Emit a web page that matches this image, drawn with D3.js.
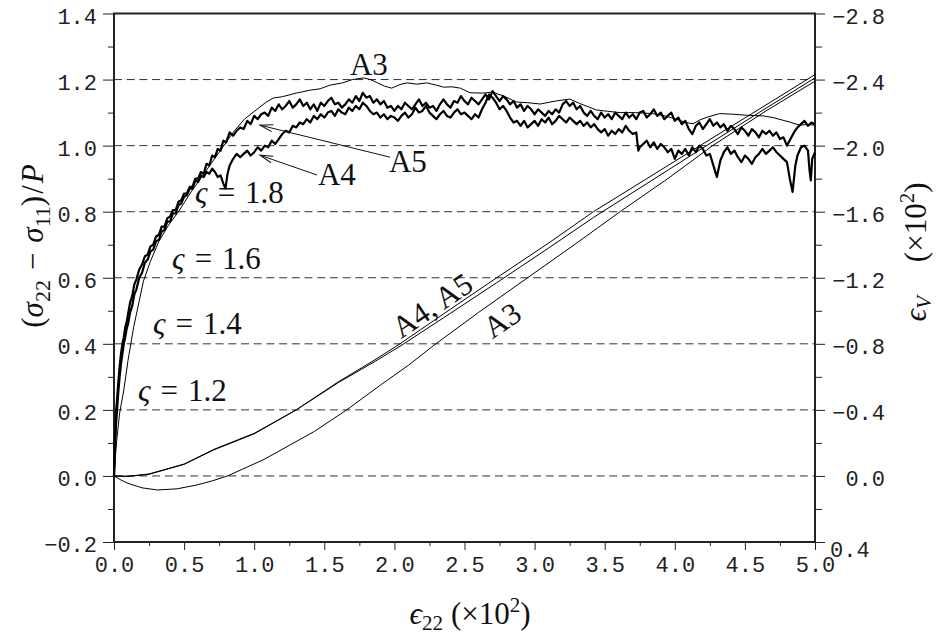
<!DOCTYPE html>
<html>
<head>
<meta charset="utf-8">
<script src="https://cdn.jsdelivr.net/npm/d3@7"></script>
<style>
  body { margin: 0; background: #fff; }
  svg { display: block; }
  .tick text { font-family: "Liberation Mono", monospace; font-size: 22px; fill: #222; }
  .tick line { stroke: #222; }
  .math { font-family: "Liberation Serif", "DejaVu Serif", serif; fill: #111; font-size: 31px; }
  .grid { stroke: #333; stroke-width: 1; stroke-dasharray: 8 4.7; }
</style>
</head>
<body>
<div id="chart"></div>
<script>
// ---- data ----
// x = eps22 (x10^2), left axis = (s22 - s11)/P, right axis = epsV (x10^2)

const xMajorTicks = [0, 0.5, 1, 1.5, 2, 2.5, 3, 3.5, 4, 4.5, 5];
const xMinorTicks = [0.25, 0.75, 1.25, 1.75, 2.25, 2.75, 3.25, 3.75, 4.25, 4.75];
const leftMajorTicks = [-0.2, 0, 0.2, 0.4, 0.6, 0.8, 1.0, 1.2, 1.4];
const leftMinorTicks = [-0.1, 0.1, 0.3, 0.5, 0.7, 0.9, 1.1, 1.3];
const rightMajorTicks = [0.4, 0, -0.4, -0.8, -1.2, -1.6, -2.0, -2.4, -2.8];
const rightMinorTicks = [0.2, -0.2, -0.6, -1.0, -1.4, -1.8, -2.2, -2.6];
const gridValues = [0, 0.2, 0.4, 0.6, 0.8, 1.0, 1.2];

// stress ratio, A3 (thin, smoother)
const stressA3 = [[0,0],[0.01,0.06],[0.02,0.11],[0.04,0.19],[0.07,0.26],[0.1,0.35],[0.14,0.45],[0.18,0.53],
  [0.21,0.59],[0.26,0.65],[0.32,0.71],[0.39,0.76],[0.46,0.80],[0.55,0.86],[0.65,0.92],[0.75,0.98],
  [0.85,1.04],[0.93,1.08],[1.02,1.11],[1.08,1.13],[1.135,1.144],[1.2,1.148],[1.3,1.159],[1.4,1.168],
  [1.47,1.172],[1.54,1.183],[1.63,1.19],[1.7,1.20],[1.78,1.205],[1.83,1.20],[1.87,1.192],[1.93,1.18],
  [1.98,1.174],[2.04,1.185],[2.09,1.19],[2.16,1.186],[2.23,1.19],[2.3,1.183],[2.35,1.177],[2.41,1.178],
  [2.47,1.174],[2.54,1.16],[2.63,1.159],[2.70,1.162],[2.78,1.15],[2.87,1.132],[2.95,1.13],[3.04,1.126],
  [3.15,1.135],[3.25,1.141],[3.32,1.128],[3.44,1.108],[3.52,1.104],[3.61,1.10],[3.72,1.10],[3.84,1.097],
  [3.93,1.09],[4.01,1.08],[4.08,1.07],[4.13,1.066],[4.18,1.078],[4.23,1.086],[4.32,1.097],[4.42,1.095],
  [4.51,1.092],[4.63,1.09],[4.7,1.085],[4.77,1.077],[4.83,1.07],[4.89,1.062],[4.95,1.064],[5.0,1.062]];

// stress ratio, A5 (noisy, upper band)
const stressA5 = [[0,0],[0.005,0.08],[0.01,0.15],[0.015,0.2],[0.02,0.22],[0.03,0.28],[0.04,0.33],[0.05,0.37],
  [0.06,0.40],[0.07,0.42],[0.08,0.45],[0.09,0.465],[0.1,0.49],[0.115,0.525],[0.13,0.545],[0.145,0.58],
  [0.16,0.595],[0.18,0.625],[0.2,0.64],[0.22,0.665],[0.24,0.67],[0.26,0.695],[0.28,0.70],[0.30,0.725],
  [0.32,0.73],[0.34,0.755],[0.36,0.755],[0.38,0.78],[0.40,0.785],[0.42,0.805],[0.44,0.805],[0.46,0.83],
  [0.48,0.835],[0.50,0.855],[0.52,0.855],[0.54,0.875],[0.56,0.875],[0.58,0.9],[0.60,0.9],[0.62,0.92],
  [0.64,0.915],[0.66,0.945],[0.68,0.94],[0.70,0.97],[0.72,0.965],[0.74,0.99],[0.76,0.985],[0.78,1.015],
  [0.800,1.01],[0.825,1.04],[0.850,1.03],[0.875,1.045],[0.900,1.055],[0.925,1.05],[0.950,1.075],[0.975,1.065],
  [1.000,1.09],[1.025,1.08],[1.050,1.095],[1.075,1.1],[1.100,1.09],[1.125,1.115],[1.150,1.105],[1.175,1.125],
  [1.200,1.11],[1.225,1.12],[1.250,1.135],[1.275,1.115],[1.300,1.125],[1.325,1.14],[1.350,1.12],[1.375,1.13],
  [1.400,1.11],[1.425,1.125],[1.450,1.105],[1.475,1.13],[1.500,1.12],[1.525,1.135],[1.550,1.145],[1.575,1.125],
  [1.600,1.13],[1.625,1.115],[1.650,1.125],[1.675,1.14],[1.700,1.13],[1.725,1.15],[1.750,1.135],[1.775,1.16],
  [1.800,1.145],[1.825,1.15],[1.850,1.13],[1.875,1.14],[1.900,1.125],[1.925,1.135],[1.950,1.115],[1.975,1.12],
  [2.000,1.105],[2.025,1.12],[2.050,1.11],[2.075,1.13],[2.100,1.12],[2.125,1.11],[2.150,1.125],[2.175,1.14],
  [2.200,1.12],[2.225,1.13],[2.250,1.115],[2.275,1.12],[2.300,1.105],[2.325,1.125],[2.350,1.14],[2.375,1.125],
  [2.400,1.115],[2.425,1.135],[2.450,1.13],[2.475,1.15],[2.500,1.135],[2.525,1.125],[2.550,1.145],[2.575,1.135],
  [2.600,1.125],[2.625,1.14],[2.650,1.155],[2.675,1.14],[2.700,1.165],[2.725,1.15],[2.750,1.135],[2.775,1.15],
  [2.800,1.14],[2.825,1.125],[2.850,1.135],[2.875,1.115],[2.900,1.125],[2.925,1.105],[2.950,1.12],[2.975,1.11],
  [3.000,1.095],[3.025,1.11],[3.050,1.1],[3.075,1.09],[3.100,1.105],[3.125,1.095],[3.150,1.11],[3.175,1.1],
  [3.200,1.125],[3.225,1.135],[3.250,1.12],[3.275,1.13],[3.300,1.11],[3.325,1.12],[3.350,1.1],[3.375,1.09],
  [3.400,1.105],[3.425,1.09],[3.450,1.08],[3.475,1.1],[3.500,1.085],[3.525,1.095],[3.550,1.08],[3.575,1.1],
  [3.600,1.09],[3.625,1.08],[3.650,1.1],[3.675,1.085],[3.700,1.095],[3.725,1.08],[3.750,1.1],[3.775,1.105],
  [3.800,1.085],[3.825,1.095],[3.850,1.11],[3.875,1.09],[3.900,1.1],[3.925,1.08],[3.950,1.09],[3.975,1.1],
  [4.000,1.075],[4.025,1.085],[4.050,1.065],[4.075,1.075],[4.100,1.05],[4.125,1.035],[4.150,1.06],[4.175,1.07],
  [4.200,1.05],[4.225,1.065],[4.250,1.08],[4.275,1.06],[4.300,1.07],[4.325,1.055],[4.350,1.065],[4.375,1.045],
  [4.400,1.06],[4.425,1.05],[4.450,1.035],[4.475,1.055],[4.500,1.045],[4.525,1.03],[4.550,1.05],[4.575,1.04],
  [4.600,1.025],[4.625,1.045],[4.650,1.035],[4.675,1.045],[4.700,1.03],[4.725,1.04],[4.750,1.02],[4.775,1.025],
  [4.800,1.0],[4.825,1.02],[4.850,1.04],[4.875,1.055],[4.900,1.065],[4.925,1.075],[4.950,1.06],[4.975,1.07],
  [5.000,1.065]];

// stress ratio, A4 (noisy, lower band)
const stressA4 = [[0,0],[0.005,0.06],[0.01,0.12],[0.015,0.16],[0.02,0.19],[0.03,0.25],[0.04,0.30],[0.05,0.34],
  [0.06,0.37],[0.07,0.40],[0.08,0.42],[0.09,0.445],[0.1,0.46],[0.115,0.495],[0.13,0.515],[0.145,0.55],
  [0.16,0.565],[0.18,0.6],[0.2,0.615],[0.22,0.645],[0.24,0.655],[0.26,0.68],[0.28,0.685],[0.30,0.71],
  [0.32,0.715],[0.34,0.74],[0.36,0.745],[0.38,0.77],[0.40,0.77],[0.42,0.795],[0.44,0.795],[0.46,0.82],
  [0.48,0.825],[0.50,0.845],[0.52,0.85],[0.54,0.87],[0.56,0.87],[0.58,0.895],[0.60,0.89],[0.62,0.91],
  [0.64,0.905],[0.66,0.92],[0.68,0.915],[0.70,0.93],[0.72,0.92],[0.74,0.905],[0.76,0.91],[0.78,0.885],
  [0.795,0.87],[0.81,0.915],[0.825,0.94],[0.850,0.96],[0.875,0.975],[0.900,0.965],[0.925,0.975],[0.950,0.985],
  [0.975,0.97],[1.000,0.98],[1.025,0.995],[1.050,0.985],[1.075,1.0],[1.100,0.995],[1.125,1.015],[1.150,1.005],
  [1.175,1.02],[1.200,1.035],[1.225,1.045],[1.250,1.04],[1.275,1.06],[1.300,1.055],[1.325,1.07],[1.350,1.065],
  [1.375,1.08],[1.400,1.07],[1.425,1.09],[1.450,1.08],[1.475,1.095],[1.500,1.085],[1.525,1.1],[1.550,1.105],
  [1.575,1.09],[1.600,1.11],[1.625,1.1],[1.650,1.095],[1.675,1.115],[1.700,1.105],[1.725,1.12],[1.750,1.11],
  [1.775,1.13],[1.800,1.12],[1.825,1.105],[1.850,1.095],[1.875,1.1],[1.900,1.085],[1.925,1.095],[1.950,1.08],
  [1.975,1.09],[2.000,1.085],[2.025,1.075],[2.050,1.09],[2.075,1.1],[2.100,1.085],[2.125,1.095],[2.150,1.115],
  [2.175,1.1],[2.200,1.105],[2.225,1.12],[2.250,1.1],[2.275,1.09],[2.300,1.08],[2.325,1.095],[2.350,1.105],
  [2.375,1.09],[2.400,1.085],[2.425,1.1],[2.450,1.11],[2.475,1.095],[2.500,1.1],[2.525,1.09],[2.550,1.08],
  [2.575,1.095],[2.600,1.085],[2.625,1.11],[2.650,1.13],[2.675,1.155],[2.700,1.145],[2.725,1.13],[2.750,1.11],
  [2.775,1.12],[2.800,1.105],[2.825,1.085],[2.850,1.07],[2.875,1.075],[2.900,1.06],[2.925,1.075],[2.950,1.055],
  [2.975,1.065],[3.000,1.075],[3.025,1.06],[3.050,1.08],[3.075,1.07],[3.100,1.085],[3.125,1.065],[3.150,1.075],
  [3.175,1.09],[3.200,1.08],[3.225,1.07],[3.250,1.085],[3.275,1.075],[3.300,1.065],[3.325,1.075],[3.350,1.06],
  [3.375,1.07],[3.400,1.055],[3.425,1.065],[3.450,1.05],[3.475,1.04],[3.500,1.05],[3.525,1.03],[3.550,1.045],
  [3.575,1.035],[3.600,1.05],[3.625,1.04],[3.650,1.06],[3.675,1.045],[3.700,1.035],[3.725,1.04],[3.740,0.985],
  [3.750,0.995],[3.775,1.005],[3.800,1.015],[3.825,0.995],[3.850,1.01],[3.875,0.99],[3.900,1.005],[3.925,0.995],
  [3.950,0.98],[3.975,0.99],[4.000,0.96],[4.025,0.985],[4.050,0.975],[4.075,0.99],[4.100,0.97],[4.125,0.995],
  [4.150,0.98],[4.175,1.0],[4.200,0.99],[4.225,0.97],[4.250,0.975],[4.275,0.94],[4.300,0.905],[4.325,0.955],
  [4.350,0.98],[4.375,0.995],[4.400,0.975],[4.425,0.985],[4.450,0.965],[4.475,0.95],[4.500,0.97],[4.525,0.96],
  [4.550,0.945],[4.575,0.965],[4.600,0.975],[4.625,0.99],[4.650,0.975],[4.675,0.985],[4.700,0.995],[4.725,0.98],
  [4.750,0.97],[4.775,0.96],[4.800,0.95],[4.820,0.9],[4.840,0.86],[4.860,0.94],[4.875,0.97],[4.900,0.995],
  [4.925,1.0],[4.950,0.985],[4.960,0.93],[4.970,0.895],[4.980,0.96],[5.000,0.98]];

// volumetric strain (right axis)
const volA3 = [[0,0],[0.05,0.025],[0.1,0.045],[0.2,0.072],[0.31,0.085],[0.45,0.078],[0.59,0.055],[0.7,0.03],
  [0.81,0],[1.07,-0.10],[1.43,-0.27],[1.66,-0.40],[1.9,-0.55],[2.1,-0.67],[2.28,-0.79],[2.6,-0.99],
  [2.95,-1.20],[3.3,-1.41],[3.61,-1.60],[3.95,-1.80],[4.27,-2.00],[4.65,-2.21],[5.0,-2.39]];
const volA4 = [[0,0],[0.1,0.003],[0.25,-0.01],[0.5,-0.07],[0.71,-0.157],[1.0,-0.255],[1.3,-0.40],[1.6,-0.57],
  [1.855,-0.70],[2.04,-0.80],[2.4,-1.01],[2.73,-1.20],[3.1,-1.41],[3.42,-1.60],[3.8,-1.80],[4.18,-2.00],
  [4.6,-2.22],[5.0,-2.43]];
const volA5 = [[0,0],[0.1,0.002],[0.25,-0.012],[0.5,-0.072],[0.71,-0.16],[1.0,-0.258],[1.3,-0.40],[1.6,-0.565],
  [1.855,-0.69],[2.04,-0.785],[2.4,-0.985],[2.73,-1.17],[3.1,-1.38],[3.42,-1.565],[3.8,-1.77],[4.18,-1.975],
  [4.6,-2.20],[5.0,-2.41]];

// annotation labels in data coordinates (left axis)
const sigmaLabels = [
  { x: 0.578, y: 0.826, value: '1.8' },
  { x: 0.414, y: 0.626, value: '1.6' },
  { x: 0.278, y: 0.430, value: '1.4' },
  { x: 0.171, y: 0.227, value: '1.2' }
];
const caseLabels = [
  { x: 1.683, y: 1.213, text: 'A3' },
  { x: 1.961, y: 0.920, text: 'A5' },
  { x: 1.455, y: 0.880, text: 'A4' }
];
const slopeLabels = [
  { x: 2.268, y: 0.517, text: 'A4, A5' },
  { x: 2.767, y: 0.472, text: 'A3' }
];
const arrows = [
  { from: [1.969, 0.965], to: [1.041, 1.062] },
  { from: [1.448, 0.911], to: [1.041, 0.971] }
];

// ---- layout ----
const W = 939, H = 634;
const margin = { top: 13.5, right: 124, bottom: 92, left: 114 };
const width = W - margin.left - margin.right;
const height = H - margin.top - margin.bottom;

const svg = d3.select('#chart').append('svg')
  .attr('width', W)
  .attr('height', H);

const defs = svg.append('defs');
defs.append('marker')
  .attr('id', 'arrow')
  .attr('markerUnits', 'userSpaceOnUse')
  .attr('viewBox', '-16 -8 20 16')
  .attr('markerWidth', 20)
  .attr('markerHeight', 16)
  .attr('refX', 0)
  .attr('refY', 0)
  .attr('orient', 'auto')
  .append('path')
    .attr('d', 'M-13,-3.5 L0,0 L-13,3.5')
    .attr('fill', 'none')
    .attr('stroke', '#111')
    .attr('stroke-width', 1);

const chart = svg.append('g')
  .attr('transform', `translate(${margin.left},${margin.top})`);

// scales
const x = d3.scaleLinear().domain([0, 5]).range([0, width]);
const yL = d3.scaleLinear().domain([-0.2, 1.4]).range([height, 0]);
const yR = d3.scaleLinear().domain([0.4, -2.8]).range([height, 0]);

// dashed gridlines
chart.selectAll('.grid')
  .data(gridValues)
  .join('line')
    .attr('class', 'grid')
    .attr('x1', 0)
    .attr('x2', width)
    .attr('y1', d => yL(d))
    .attr('y2', d => yL(d));

// axes
const fmt = d3.format('.1f');

chart.append('g')
  .attr('transform', `translate(0,${height})`)
  .call(d3.axisBottom(x).tickValues(xMinorTicks).tickSize(4).tickFormat(''));
chart.append('g')
  .attr('transform', `translate(0,${height})`)
  .call(d3.axisBottom(x).tickValues(xMajorTicks).tickSize(8).tickPadding(6).tickFormat(fmt));

chart.append('g')
  .call(d3.axisLeft(yL).tickValues(leftMinorTicks).tickSize(6).tickFormat(''));
chart.append('g')
  .call(d3.axisLeft(yL).tickValues(leftMajorTicks).tickSize(11).tickPadding(6).tickFormat(fmt))
  .selectAll('text').attr('dy', '0.45em');

chart.append('g')
  .attr('transform', `translate(${width},0)`)
  .call(d3.axisRight(yR).tickValues(rightMinorTicks).tickSize(7).tickFormat(''));
const rightAxis = chart.append('g')
  .attr('transform', `translate(${width},0)`)
  .call(d3.axisRight(yR).tickValues(rightMajorTicks).tickSize(10).tickFormat(fmt));
rightAxis.selectAll('text')
  .attr('text-anchor', d => d > 0 ? 'start' : 'end')
  .attr('x', d => d > 0 ? 15 : 70)
  .attr('dy', d => d > 0 ? '0.65em' : '0.45em');

chart.selectAll('.domain').remove();

// frame
chart.append('rect')
  .attr('x', 0)
  .attr('y', 0)
  .attr('width', width)
  .attr('height', height)
  .attr('fill', 'none')
  .attr('stroke', '#222')
  .attr('stroke-width', 2);

// curves
const lineL = d3.line().x(d => x(d[0])).y(d => yL(d[1]));
const lineR = d3.line().x(d => x(d[0])).y(d => yR(d[1]));

const curves = [
  { data: volA3, line: lineR, w: 1 },
  { data: volA4, line: lineR, w: 1 },
  { data: volA5, line: lineR, w: 1 },
  { data: stressA3, line: lineL, w: 1 },
  { data: stressA4, line: lineL, w: 2.2 },
  { data: stressA5, line: lineL, w: 2.2 }
];

chart.selectAll('.curve')
  .data(curves)
  .join('path')
    .attr('class', 'curve')
    .attr('d', d => d.line(d.data))
    .attr('fill', 'none')
    .attr('stroke', '#000')
    .attr('stroke-width', d => d.w)
    .attr('stroke-linejoin', 'round');

// arrows
chart.selectAll('.arrow')
  .data(arrows)
  .join('line')
    .attr('class', 'arrow')
    .attr('x1', d => x(d.from[0]))
    .attr('y1', d => yL(d.from[1]))
    .attr('x2', d => x(d.to[0]))
    .attr('y2', d => yL(d.to[1]))
    .attr('stroke', '#111')
    .attr('stroke-width', 1)
    .attr('marker-end', 'url(#arrow)');

// annotations
chart.selectAll('.case-label')
  .data(caseLabels)
  .join('text')
    .attr('class', 'math case-label')
    .attr('x', d => x(d.x))
    .attr('y', d => yL(d.y))
    .text(d => d.text);

const sl = chart.selectAll('.sigma-label')
  .data(sigmaLabels)
  .join('text')
    .attr('class', 'math sigma-label')
    .attr('x', d => x(d.x))
    .attr('y', d => yL(d.y));
sl.append('tspan').attr('font-style', 'italic').text('ς');
sl.append('tspan').attr('dx', 10).text('=');
sl.append('tspan').attr('dx', 10).text(d => d.value);

chart.selectAll('.slope-label')
  .data(slopeLabels)
  .join('text')
    .attr('class', 'math slope-label')
    .attr('text-anchor', 'middle')
    .attr('transform', d => `translate(${x(d.x)},${yL(d.y)}) rotate(-34)`)
    .attr('dy', '0.35em')
    .text(d => d.text);

// axis titles
const leftTitle = svg.append('text')
  .attr('class', 'math')
  .attr('font-size', 33)
  .attr('text-anchor', 'middle')
  .attr('transform', 'translate(43,246) rotate(-90)');
leftTitle.append('tspan').text('(');
leftTitle.append('tspan').attr('font-style', 'italic').text('σ');
leftTitle.append('tspan').attr('font-size', 22).attr('dy', 7).text('22');
leftTitle.append('tspan').attr('dy', -7).attr('dx', 10).text('−');
leftTitle.append('tspan').attr('dx', 10).attr('font-style', 'italic').text('σ');
leftTitle.append('tspan').attr('font-size', 22).attr('dy', 7).text('11');
leftTitle.append('tspan').attr('dy', -7).text(')');
leftTitle.append('tspan').attr('dx', 2).text('/');
leftTitle.append('tspan').attr('dx', 2).attr('font-style', 'italic').text('P');

const rightTitle = svg.append('text')
  .attr('class', 'math')
  .attr('text-anchor', 'middle')
  .attr('transform', 'translate(926,252) rotate(-90)');
rightTitle.append('tspan').attr('font-style', 'italic').text('ϵ');
rightTitle.append('tspan').attr('font-style', 'italic').attr('font-size', 21).attr('dy', 5).text('V');
rightTitle.append('tspan').attr('dy', -5).attr('dx', 34).text('(×10');
rightTitle.append('tspan').attr('font-size', 21).attr('dy', -12).text('2');
rightTitle.append('tspan').attr('dy', 12).text(')');

const bottomTitle = svg.append('text')
  .attr('class', 'math')
  .attr('text-anchor', 'middle')
  .attr('x', 470)
  .attr('y', 624);
bottomTitle.append('tspan').attr('font-style', 'italic').text('ϵ');
bottomTitle.append('tspan').attr('font-size', 21).attr('dy', 6).text('22');
bottomTitle.append('tspan').attr('dy', -6).attr('dx', 8).text('(×10');
bottomTitle.append('tspan').attr('font-size', 21).attr('dy', -12).text('2');
bottomTitle.append('tspan').attr('dy', 12).text(')');
</script>
</body>
</html>
